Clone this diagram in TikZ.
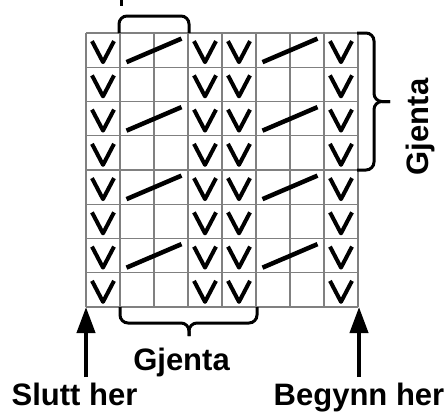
\documentclass[tikz,border=0pt]{standalone}
\usepackage{fontspec}
\setmainfont{Liberation Sans}
\usetikzlibrary{arrows.meta}
\begin{document}
\begin{tikzpicture}[x=1pt,y=-1pt,
  gridline/.style={draw=black!50, line width=1.4pt},
  vstroke/.style={line width=4pt, line join=round},
  slashstroke/.style={line width=4.5pt},
  bracestroke/.style={line width=3pt, rounded corners=8pt},
  lbl/.style={font=\fontsize{31}{38}\selectfont\bfseries, inner sep=0pt},
  arrowstroke/.style={line width=4pt, -{Triangle[length=26pt,width=18pt]}},
  vmark/.pic={\draw[vstroke] (-11,-9) -- (0,12) -- (11,-9);},
  slashmark/.pic={\draw[slashstroke] (-27.5,12) -- (27.5,-11.5);}
]
\useasboundingbox (0,0) rectangle (444,415);
% grid
\foreach \i in {0,...,8} {
  \draw[gridline] ({86+34*\i},33) -- ({86+34*\i},307);
  \draw[gridline] (86,{33+34.25*\i}) -- (358,{33+34.25*\i});
}
% V symbols
\foreach \c in {0,3,4,7} {
  \foreach \r in {0,...,7} {
    \pic at ({86+34*(\c+0.5)},{33+34.25*(\r+0.5)}) {vmark};
  }
}
% slashes
\foreach \cx in {154,290} {
  \foreach \r in {0,2,4,6} {
    \pic at (\cx,{33+34.25*(\r+0.5)}) {slashmark};
  }
}
% top stub (cut-off glyph)
\draw[line width=3.5pt] (121.5,0) -- (121.5,6);
% top bracket
\draw[bracestroke] (119,33) -- (119,16) -- (189,16) -- (189,33);
% right brace
\draw[bracestroke] (357,33) -- (374,33) -- (374,101.5) -- (390,101.5);
\draw[bracestroke] (357,170) -- (374,170) -- (374,101.5) -- (390,101.5);
% bottom brace
\draw[bracestroke] (120,307) -- (120,323) -- (189,323) -- (189,336);
\draw[bracestroke] (257,307) -- (257,323) -- (189,323) -- (189,336);
% labels
\node[lbl, rotate=90, anchor=base] (gjR) at (428,127) {Gjenta};
\node[lbl, anchor=base] (gjB) at (181.5,370) {Gjenta};
\node[lbl, anchor=base] (slutt) at (74.5,405) {Slutt her};
\node[lbl, anchor=base] (begynn) at (359,405) {Begynn her};
% arrows
\coordinate (aL) at (86,377);
\coordinate (gL) at (86,307);
\coordinate (aR) at (359,377);
\coordinate (gR) at (359,307);
\draw[arrowstroke] (aL) -- (gL);
\draw[arrowstroke] (aR) -- (gR);
\end{tikzpicture}
\end{document}
